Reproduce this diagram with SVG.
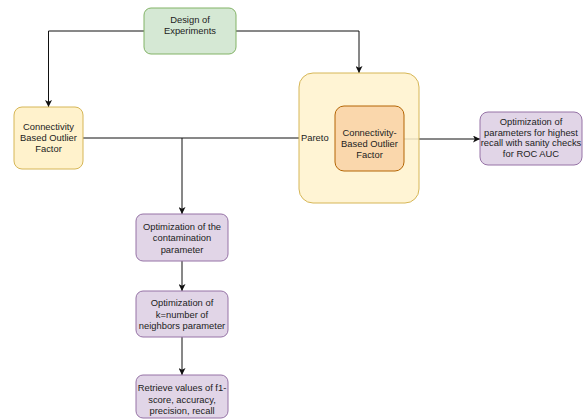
<svg xmlns="http://www.w3.org/2000/svg" width="584" height="419" viewBox="0 0 584 419">
<defs>
<marker id="arr" viewBox="0 0 10 10" refX="10" refY="5" markerWidth="7" markerHeight="7" markerUnits="userSpaceOnUse" orient="auto">
<path d="M0,0 L10,5 L0,10 L2.5,5 Z" fill="#111"/>
</marker>
<style>
text{font-family:"Liberation Sans",Arial,sans-serif;font-size:9.4px;fill:#222;text-anchor:middle}
.c{fill:none;stroke:#111;stroke-width:1}
.green{fill:#d5e8d4;stroke:#82b366}
.yellow{fill:#fff2cc;stroke:#d6b656}
.orange{fill:#fad7ac;stroke:#b46504}
.purple{fill:#e1d5e7;stroke:#9673a6}
</style>
</defs>
<rect width="584" height="419" fill="#fff"/>
<g id="connectors">
<path class="c" d="M144,31 H48.5 V107" marker-end="url(#arr)"/>
<path class="c" d="M236,31 H359 V73" marker-end="url(#arr)"/>
<path class="c" d="M83,138 H299"/>
<path class="c" d="M182,138 V214" marker-end="url(#arr)"/>
<path class="c" d="M404,139 H480" marker-end="url(#arr)"/>
<path class="c" d="M182,261 V291" marker-end="url(#arr)"/>
<path class="c" d="M182,337 V375" marker-end="url(#arr)"/>
</g>
<g id="design">
<rect class="green" x="144" y="8" width="92" height="46" rx="7"/>
<text x="190" y="23">Design of</text>
<text x="190" y="34">Experiments</text>
</g>
<g id="cbof-left">
<rect class="yellow" x="14" y="107" width="69" height="62" rx="8"/>
<text x="48.5" y="130">Connectivity</text>
<text x="48.5" y="141">Based Outlier</text>
<text x="48.5" y="152">Factor</text>
</g>
<g id="pareto">
<rect class="yellow" x="299" y="73" width="120" height="130" rx="14" fill-opacity="0.85"/>
<text x="301" y="141" style="text-anchor:start">Pareto</text>
</g>
<g id="cbof-inner">
<rect class="orange" x="335" y="106" width="69" height="65" rx="9"/>
<text x="369.5" y="136">Connectivity-</text>
<text x="369.5" y="147">Based Outlier</text>
<text x="369.5" y="158">Factor</text>
</g>
<g id="optim-params">
<rect class="purple" x="480" y="112" width="102" height="53" rx="8"/>
<text x="531" y="125">Optimization of</text>
<text x="531" y="135.5">parameters for highest</text>
<text x="531" y="146">recall with sanity checks</text>
<text x="531" y="157">for ROC AUC</text>
</g>
<g id="contamination">
<rect class="purple" x="136" y="214" width="92" height="47" rx="7"/>
<text x="182" y="230">Optimization of the</text>
<text x="182" y="241">contamination</text>
<text x="182" y="252.5">parameter</text>
</g>
<g id="kneighbors">
<rect class="purple" x="136" y="291" width="92" height="46" rx="7"/>
<text x="182" y="306">Optimization of</text>
<text x="182" y="317.5">k=number of</text>
<text x="182" y="329">neighbors parameter</text>
</g>
<g id="retrieve">
<rect class="purple" x="136" y="375" width="92" height="43" rx="7"/>
<text x="182" y="391">Retrieve values of f1-</text>
<text x="182" y="403">score, accuracy,</text>
<text x="182" y="414">precision, recall</text>
</g>
</svg>
